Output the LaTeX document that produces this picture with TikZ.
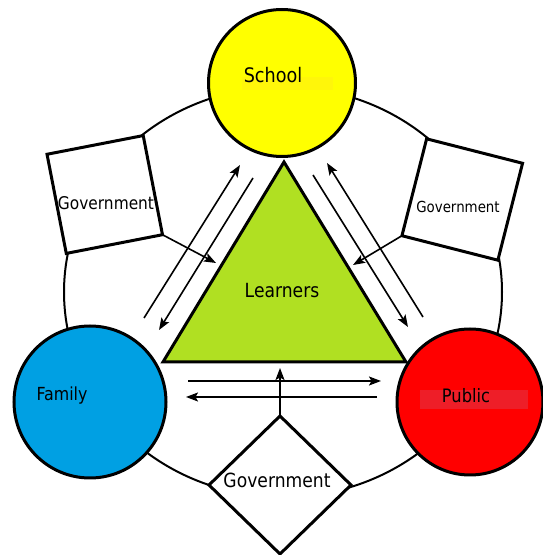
\documentclass[tikz,border=0pt]{standalone}
\usepackage{fontspec}
\setmainfont{DejaVu Sans}[FakeStretch=0.88]
\usetikzlibrary{shapes.geometric,arrows.meta}

\definecolor{schoolyellow}{RGB}{255,255,0}
\definecolor{schoolmark}{RGB}{255,246,10}
\definecolor{familyblue}{RGB}{0,160,227}
\definecolor{publicred}{RGB}{255,0,0}
\definecolor{publicmark}{RGB}{238,30,40}
\definecolor{learnergreen}{RGB}{176,224,34}

\tikzset{
  ring/.style={draw=black, line width=2pt},
  actor/.style={circle, draw=black, line width=3pt, minimum size=147pt, inner sep=0pt, outer sep=0pt},
  govbox/.style={rectangle, draw=black, fill=white, line width=3pt, inner sep=0pt, outer sep=0pt},
  govdiamond/.style={diamond, draw=black, fill=white, line width=3pt, minimum width=142pt, minimum height=138pt, inner sep=0pt, outer sep=0pt},
  flow/.style={draw=black, line width=1.6pt, -{Stealth[length=12pt,width=9pt,inset=2.5pt]}},
  caption/.style={anchor=base, inner sep=0pt, text=black},
}

\begin{document}
\begin{tikzpicture}[x=1pt,y=1pt]
  \useasboundingbox (0,0) rectangle (543,555);

  % ring linking the three actors and the government bodies
  \draw[ring] (283,263) ellipse [x radius=219pt, y radius=205pt];

  % the three actors
  \node[actor, fill=schoolyellow] (school) at (282,472) {};
  \node[actor, fill=familyblue, minimum size=152pt] (family) at (90,153) {};
  \node[actor, fill=publicred, minimum size=146pt] (public) at (470,153) {};

  % government bodies
  \node[govbox, minimum width=98pt, minimum height=101pt, rotate=11] (govL) at (104.75,360.5) {};
  \node[govbox, minimum width=99pt, minimum height=100pt, rotate=-14.3] (govR) at (462.25,355.5) {};
  \node[govdiamond] (govB) at (280,70) {};

  % learners in the middle
  \coordinate (tA) at (284,393);
  \coordinate (tB) at (163,193);
  \coordinate (tC) at (406,193);
  \draw[line width=3pt, line join=miter, fill=learnergreen] (tA) -- (tB) -- (tC) -- cycle;

  % text highlights
  \fill[schoolmark] (242,465) rectangle (333,478);
  \fill[publicmark] (420,146) rectangle (528,165);

  % labels
  \node[caption, font=\fontsize{20}{24}\selectfont] (tSchool) at (273,472) {School};
  \node[caption, font=\fontsize{18}{22}\selectfont] (tFamily) at (62,154) {Family};
  \node[caption, font=\fontsize{18.5}{22}\selectfont] (tPublic) at (466,152) {Public};
  \node[caption, font=\fontsize{19.5}{23}\selectfont] (tLearners) at (282,257.5) {Learners};
  \node[caption, font=\fontsize{17.5}{21}\selectfont] (tGovL) at (106,345) {Government};
  \node[caption, font=\fontsize{15.2}{18}\selectfont] (tGovR) at (458,342) {Government};
  \node[caption, font=\fontsize{19.5}{23}\selectfont] (tGovB) at (277,67.5) {Government};

  % arrow end points
  \coordinate (sfUp0) at (144,237);
  \coordinate (sfUp1) at (240,390);
  \coordinate (sfDn0) at (253,377);
  \coordinate (sfDn1) at (159,225);
  \coordinate (spDn0) at (313,380);
  \coordinate (spDn1) at (408,228);
  \coordinate (spUp0) at (423,238);
  \coordinate (spUp1) at (327,392);
  \coordinate (fpR0) at (188,174);
  \coordinate (fpR1) at (381,174);
  \coordinate (fpL0) at (377,158);
  \coordinate (fpL1) at (186,158);
  \coordinate (govLtip) at (216,292);
  \coordinate (govRtip) at (353,290);
  \coordinate (govBtip) at (280,187);

  % flows between the actors
  \draw[flow] (sfUp0) -- (sfUp1);
  \draw[flow] (sfDn0) -- (sfDn1);
  \draw[flow] (spDn0) -- (spDn1);
  \draw[flow] (spUp0) -- (spUp1);
  \draw[flow] (fpR0) -- (fpR1);
  \draw[flow] (fpL0) -- (fpL1);

  % government influence on learners
  \draw[flow] (govL.south east) -- (govLtip);
  \draw[flow] (govR.south west) -- (govRtip);
  \draw[flow] (govB.north) -- (govBtip);
\end{tikzpicture}
\end{document}
